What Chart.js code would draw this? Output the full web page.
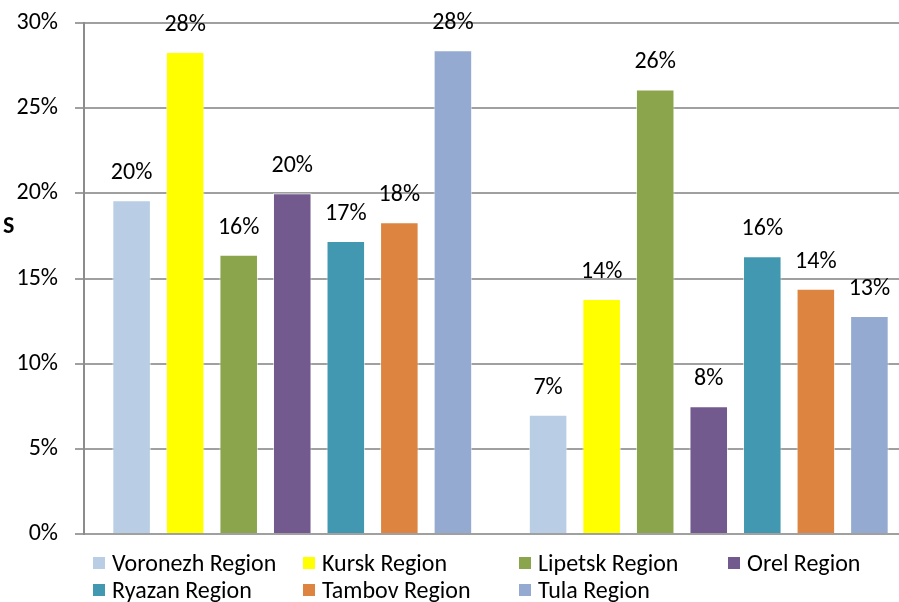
<!DOCTYPE html>
<html>
<head>
<meta charset="utf-8">
<script src="https://cdn.jsdelivr.net/npm/chart.js@4"></script>
<style>
  html, body { margin: 0; padding: 0; background: #fff; }
  #wrap { position: relative; width: 899px; height: 602px; overflow: hidden; }
  #legend { position: absolute; left: 0; top: 549px; width: 899px; font-family: Carlito, Lato, sans-serif; font-size: 24px; color: #000; }
  .item { position: absolute; display: flex; align-items: center; white-space: nowrap; line-height: 28px; }
  .box { width: 12px; height: 12px; margin-right: 7px; }
  #ytitle { position: absolute; left: 3px; top: 210px; font-family: Carlito, Lato, sans-serif; font-weight: bold; font-size: 24px; }
</style>
</head>
<body>
<div id="wrap">
  <!-- plot area runs a little past the right edge, as in the original -->
  <canvas id="chart" width="917" height="602"></canvas>
  <div id="ytitle">S</div>
  <div id="legend"></div>
</div>
<script>
const groups = ["Period 1", "Period 2"];
const regions = ["Voronezh Region", "Kursk Region", "Lipetsk Region", "Orel Region", "Ryazan Region", "Tambov Region", "Tula Region"];
const colors = ["#b9cde4", "#ffff00", "#8ba54c", "#725a8f", "#4298b0", "#dd8540", "#94aad0"];

const voronezh = [19.6, 7.0];
const kursk = [28.3, 13.8];
const lipetsk = [16.4, 26.1];
const orel = [20.0, 7.5];
const ryazan = [17.2, 16.3];
const tambov = [18.3, 14.4];
const tula = [28.4, 12.8];
const values = [voronezh, kursk, lipetsk, orel, ryazan, tambov, tula];

const yTicks = [0, 5, 10, 15, 20, 25, 30];

const valueLabels = {
  id: "valueLabels",
  afterDatasetsDraw(chart) {
    const ctx = chart.ctx;
    ctx.save();
    ctx.font = "24px Carlito, Lato, sans-serif";
    ctx.fillStyle = "#000";
    ctx.textAlign = "center";
    ctx.textBaseline = "middle";
    chart.data.datasets.forEach((ds, i) => {
      chart.getDatasetMeta(i).data.forEach((bar, j) => {
        ctx.fillText(Math.round(ds.data[j]) + "%", bar.x, bar.y - 27);
      });
    });
    ctx.restore();
  }
};

const chart = new Chart(document.getElementById("chart"), {
  type: "bar",
  data: {
    labels: groups,
    datasets: regions.map((r, i) => ({
      label: r,
      data: values[i],
      backgroundColor: colors[i],
      borderColor: "rgba(255,255,255,0.6)",
      borderWidth: 1,
      barPercentage: 0.72,
      categoryPercentage: 0.9
    }))
  },
  options: {
    responsive: false,
    animation: false,
    layout: { padding: { left: 0, right: 0, top: 23, bottom: 68 } },
    plugins: { legend: { display: false }, tooltip: { enabled: false } },
    scales: {
      x: {
        ticks: { display: false },
        grid: { display: false, drawTicks: false },
        border: { display: false }
      },
      y: {
        min: 0,
        max: 30,
        afterBuildTicks: axis => { axis.ticks = yTicks.map(v => ({ value: v })); },
        afterFit: axis => {
          axis.width = 84;
          axis.paddingTop = 0;
          axis.paddingBottom = 0;
        },
        ticks: {
          padding: 17,
          color: "#000",
          font: { family: "Carlito, Lato, sans-serif", size: 24 },
          callback: v => v + "%"
        },
        grid: { color: "#a0a0a0", lineWidth: 2, tickLength: 9 },
        border: { color: "#8c8c8c", width: 2 }
      }
    }
  },
  plugins: [valueLabels]
});

const legendPos = [[93, 0], [303, 0], [519, 0], [728, 0], [93, 27], [303, 27], [519, 27]];
const legend = document.getElementById("legend");
regions.forEach((r, i) => {
  const item = document.createElement("div");
  item.className = "item";
  item.style.left = legendPos[i][0] + "px";
  item.style.top = legendPos[i][1] + "px";
  item.innerHTML = '<span class="box" style="background:' + colors[i] + '"></span>' + r;
  legend.appendChild(item);
});
</script>
</body>
</html>
